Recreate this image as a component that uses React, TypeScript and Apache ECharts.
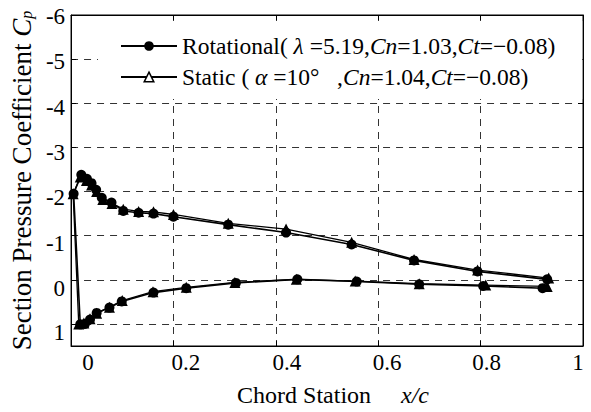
import React, { useEffect, useRef } from 'react';
import * as echarts from 'echarts';

// Chord stations (x/c) and section pressure coefficients, traced from trailing edge (lower surface)
// round the leading edge and back to the trailing edge (upper surface).
const rotationalX = [0.921, 0.805, 0.68, 0.558, 0.442, 0.322, 0.225, 0.161, 0.099, 0.075, 0.05, 0.037, 0.027, 0.018,
  0.005,
  0.02, 0.031, 0.04, 0.049, 0.06, 0.079, 0.102, 0.132, 0.161, 0.2, 0.307, 0.42, 0.548, 0.67, 0.794, 0.93];
const rotationalCp = [0.19, 0.14, 0.10, 0.04, -0.01, 0.07, 0.19, 0.29, 0.49, 0.63, 0.75, 0.90, 1.0, 1.01,
  -1.95,
  -2.38, -2.29, -2.19, -2.04, -1.86, -1.75, -1.56, -1.52, -1.50, -1.43, -1.25, -1.07, -0.80, -0.44, -0.19, -0.01];

const staticX = [0.93, 0.81, 0.68, 0.555, 0.44, 0.32, 0.225, 0.16, 0.1, 0.075, 0.05, 0.037, 0.025, 0.015,
  0.004,
  0.018, 0.03, 0.04, 0.05, 0.062, 0.08, 0.102, 0.132, 0.161, 0.2, 0.307, 0.42, 0.548, 0.67, 0.794, 0.933];
const staticCp = [0.15, 0.12, 0.09, 0.03, -0.01, 0.06, 0.17, 0.27, 0.47, 0.62, 0.76, 0.88, 0.98, 1.0,
  -1.95,
  -2.33, -2.25, -2.15, -2.0, -1.82, -1.73, -1.6, -1.55, -1.54, -1.48, -1.28, -1.15, -0.85, -0.46, -0.22, -0.04];

const seriesNames = ['Rotational', 'Static'];
const legendTexts: Record<string, string> = {
  Rotational: '{n|Rotational( }{i|λ}{n| =5.19,}{i|Cn}{n|=1.03,}{i|Ct}{n|=−0.08)}',
  Static: '{n|Static ( }{i|α}{n| =10°   ,}{i|Cn}{n|=1.04,}{i|Ct}{n|=−0.08)}',
};

// tick labels (the scanned figure shows them slightly displaced from their ticks)
const xTickLabels = ['0', '0.2', '0.4', '0.6', '0.8', '1'];
const xLabelShift = [17, 12.5, 11, 9, 6, -5];
const yTickLabels = ['-6', '-5', '-4', '-3', '-2', '-1', '0', '1'];
const yLabelShift = [1, 2, 4, 5, 6, 8, 9, 9];

const xTickStep = 0.2;
const yTickStep = 1;
const FONT = 'Liberation Serif, Times New Roman, serif';

function zip(xs: number[], ys: number[]) {
  return xs.map((x, i) => [x, ys[i]]);
}

export default function App() {
  const ref = useRef<HTMLDivElement>(null);
  useEffect(() => {
    document.body.style.margin = '0';
    const chart = echarts.init(ref.current!, undefined, { renderer: 'svg' });
    const dashed = { show: true, lineStyle: { color: '#333', width: 1, type: [7, 6] as any } };
    const black = { color: '#000', width: 1 };

    const xRich: Record<string, any> = {};
    xTickLabels.forEach((_, i) => {
      const d = xLabelShift[i];
      xRich['x' + i] = {
        fontFamily: FONT, fontSize: 23, color: '#000',
        padding: d >= 0 ? [0, 0, 0, 2 * d] : [0, -2 * d, 0, 0],
      };
    });
    const yRich: Record<string, any> = {};
    yTickLabels.forEach((_, i) => {
      yRich['y' + i] = { fontFamily: FONT, fontSize: 23, color: '#000', padding: [2 * yLabelShift[i], 0, 0, 0] };
    });
    const xLabelFmt = (v: number) => {
      const k = Math.round(v / xTickStep);
      if (Math.abs(v - k * xTickStep) > 1e-6 || k < 0 || k >= xTickLabels.length) return '';
      return `{x${k}|${xTickLabels[k]}}`;
    };
    const yLabelFmt = (v: number) => {
      const k = Math.round((v + 6) / yTickStep);
      if (Math.abs(v + 6 - k * yTickStep) > 1e-6 || k < 0 || k >= yTickLabels.length) return '';
      return `{y${k}|${yTickLabels[k]}}`;
    };

    chart.setOption({
      animation: false,
      backgroundColor: '#fff',
      grid: { left: 71, right: 8, top: 15, bottom: 62, show: true, borderColor: '#000', borderWidth: 1, backgroundColor: 'transparent' },
      legend: {
        orient: 'vertical',
        left: 98,
        top: 21,
        padding: [13, 27, 10, 22],
        backgroundColor: '#fff',
        itemWidth: 56,
        itemHeight: 12,
        itemGap: 7,
        data: [
          { name: 'Rotational' },
          { name: 'Static', itemStyle: { color: '#fff', borderColor: '#000', borderWidth: 1.5 } },
        ],
        formatter: (name: string) => legendTexts[name],
        textStyle: {
          fontFamily: FONT,
          fontSize: 23.5,
          color: '#000',
          lineHeight: 24,
          rich: {
            n: { fontFamily: FONT, fontSize: 23.5, color: '#000' },
            i: { fontFamily: FONT, fontSize: 23.5, color: '#000', fontStyle: 'italic' },
          },
        },
      },
      xAxis: [
        {
          type: 'value', gridIndex: 0, position: 'bottom', min: 0, max: 1, interval: xTickStep,
          axisLine: { show: true, onZero: false, lineStyle: black },
          axisTick: { show: true, inside: true, length: 5, lineStyle: black },
          axisLabel: { show: true, margin: 5, formatter: xLabelFmt, rich: xRich, hideOverlap: false },
          splitLine: dashed,
          name: '{n|Chord Station     }{i|x/c}',
          nameLocation: 'middle',
          nameGap: 37,
          nameTextStyle: {
            padding: [0, 0, 0, 12],
            rich: {
              n: { fontFamily: FONT, fontSize: 24, color: '#000' },
              i: { fontFamily: FONT, fontSize: 24, color: '#000', fontStyle: 'italic' },
            },
          },
        },
        {
          type: 'value', gridIndex: 0, position: 'top', min: 0, max: 1, interval: xTickStep,
          axisLine: { show: true, onZero: false, lineStyle: black },
          axisTick: { show: true, inside: true, length: 5, lineStyle: black },
          axisLabel: { show: false }, splitLine: { show: false },
        },
      ],
      yAxis: [
        {
          type: 'value', gridIndex: 0, position: 'left', inverse: true, min: -6, max: 1.5, interval: yTickStep,
          axisLine: { show: true, onZero: false, lineStyle: black },
          axisTick: { show: true, inside: true, length: 5, lineStyle: black },
          axisLabel: { show: true, margin: 6, formatter: yLabelFmt, rich: yRich },
          splitLine: dashed,
          name: '{n|Section Pressure Coefficient }{i|C}{s|p}',
          nameLocation: 'middle',
          nameGap: 35,
          nameRotate: 90,
          nameTextStyle: {
            rich: {
              n: { fontFamily: FONT, fontSize: 27, color: '#000' },
              i: { fontFamily: FONT, fontSize: 27, color: '#000', fontStyle: 'italic' },
              s: { fontFamily: FONT, fontSize: 16, color: '#000', fontStyle: 'italic', padding: [10, 0, 0, 0] },
            },
          },
        },
        {
          type: 'value', gridIndex: 0, position: 'right', offset: 0, inverse: true, min: -6, max: 1.5, interval: yTickStep,
          axisLine: { show: true, onZero: false, lineStyle: black },
          axisTick: { show: true, inside: true, length: 5, lineStyle: black },
          axisLabel: { show: false }, splitLine: { show: false },
        },
      ],
      series: [
        {
          name: seriesNames[0], type: 'line', xAxisIndex: 0, yAxisIndex: 0,
          data: zip(rotationalX, rotationalCp),
          symbol: 'circle', symbolSize: 10,
          lineStyle: { color: '#000', width: 1.6 },
          itemStyle: { color: '#000' },
          z: 3,
        },
        {
          name: seriesNames[1], type: 'line', xAxisIndex: 0, yAxisIndex: 0,
          data: zip(staticX, staticCp),
          symbol: 'triangle', symbolSize: 11,
          lineStyle: { color: '#000', width: 1.3 },
          itemStyle: { color: '#000' },
          z: 2,
        },
      ],
    });
    return () => chart.dispose();
  }, []);
  return <div ref={ref} style={{ position: 'fixed', left: 0, top: 0, width: 591, height: 412 }} />;
}
